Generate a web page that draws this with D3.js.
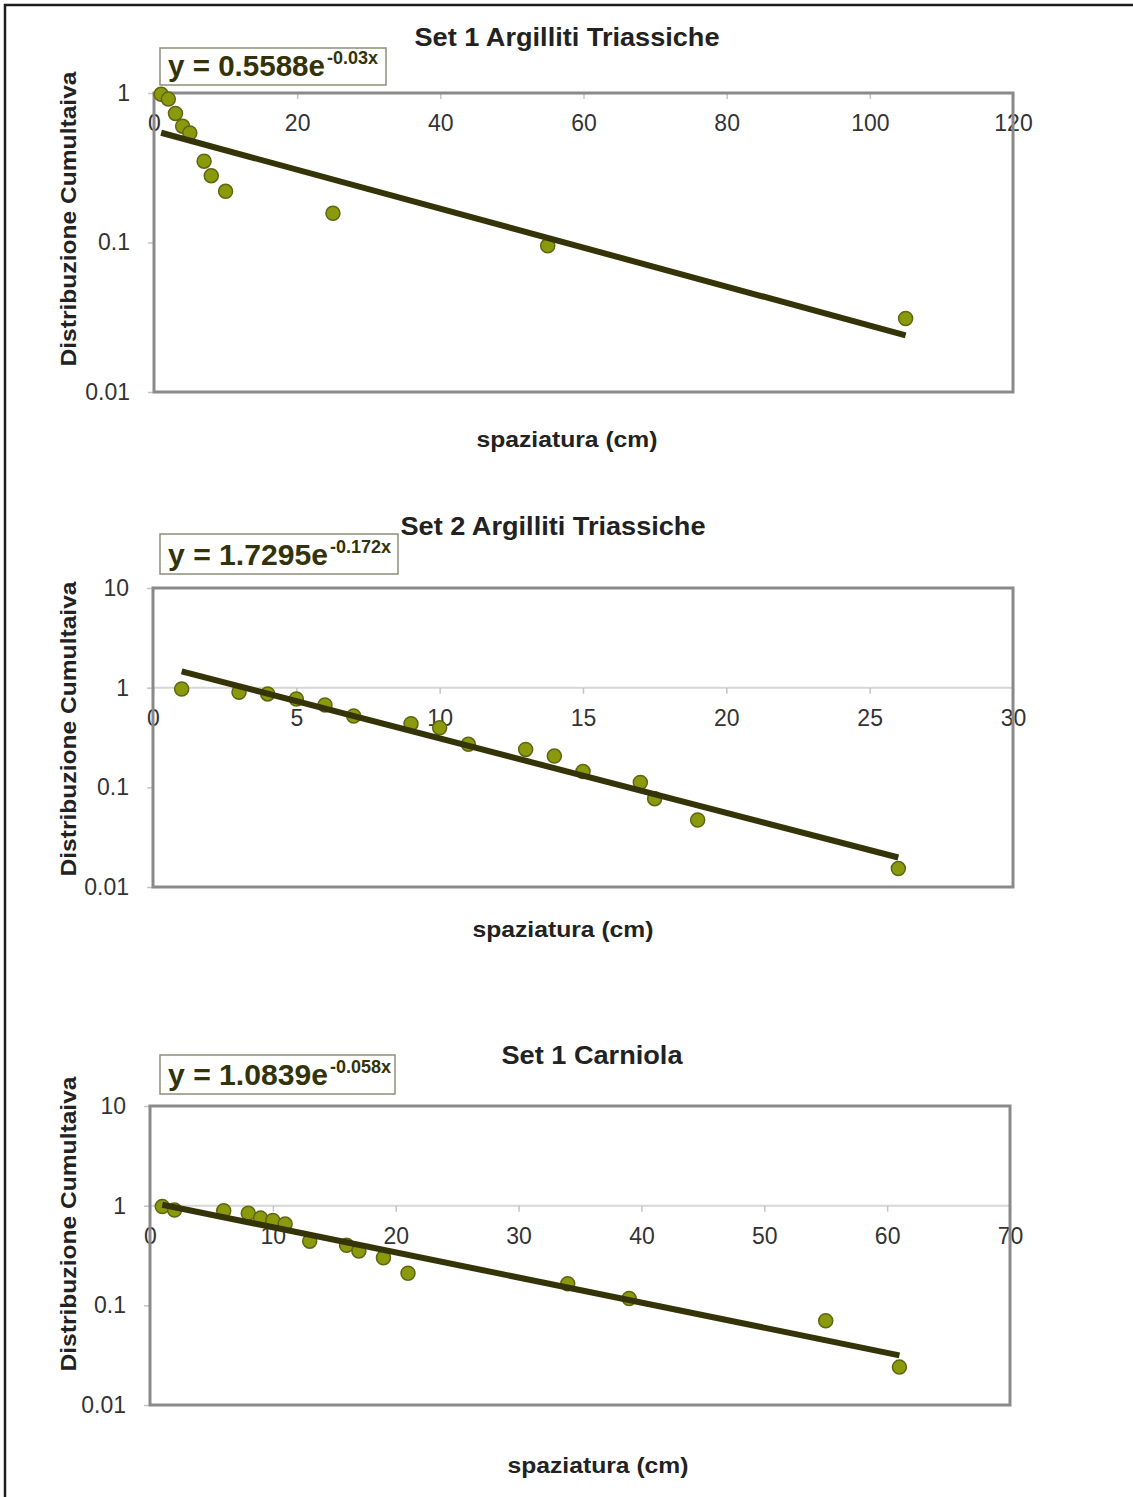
<!DOCTYPE html>
<html>
<head>
<meta charset="utf-8">
<script src="https://cdn.jsdelivr.net/npm/d3@7"></script>
<style>
  html, body { margin: 0; padding: 0; background: #fff; }
  svg text { font-family: "Liberation Sans", Arial, sans-serif; }
</style>
</head>
<body>
<svg id="fig" width="1133" height="1497"></svg>
<script>
// values
var set1Title = 'Set 1 Argilliti Triassiche';
var set1X = [1, 2, 3, 4, 5, 7, 8, 10, 25, 55, 105];
var set1Y = [0.98, 0.91, 0.73, 0.60, 0.54, 0.35, 0.28, 0.22, 0.157, 0.095, 0.031];
var set1Fit = { a: 0.5588, b: -0.03, from: 1, to: 105, label: '0.5588', exp: '-0.03x' };
var set1XTicks = [0, 20, 40, 60, 80, 100, 120];
var set1YTicks = [0.01, 0.1, 1];

var set2Title = 'Set 2 Argilliti Triassiche';
var set2X = [1, 3, 4, 5, 6, 7, 9, 10, 11, 13, 14, 15, 17, 17.5, 19, 26];
var set2Y = [0.97, 0.90, 0.865, 0.77, 0.67, 0.52, 0.435, 0.395, 0.27, 0.24, 0.206, 0.144, 0.112, 0.077, 0.047, 0.0153];
var set2Fit = { a: 1.7295, b: -0.172, from: 1, to: 26, label: '1.7295', exp: '-0.172x' };
var set2XTicks = [0, 5, 10, 15, 20, 25, 30];
var set2YTicks = [0.01, 0.1, 1, 10];

var set3Title = 'Set 1 Carniola';
var set3X = [1, 2, 6, 8, 9, 10, 11, 13, 16, 17, 19, 21, 34, 39, 55, 61];
var set3Y = [0.98, 0.905, 0.89, 0.84, 0.75, 0.71, 0.655, 0.44, 0.40, 0.35, 0.30, 0.21, 0.165, 0.117, 0.07, 0.024];
var set3Fit = { a: 1.0839, b: -0.058, from: 1, to: 61, label: '1.0839', exp: '-0.058x' };
var set3XTicks = [0, 10, 20, 30, 40, 50, 60, 70];
var set3YTicks = [0.01, 0.1, 1, 10];

var yName = 'Distribuzione Cumultaiva';
var xName = 'spaziatura (cm)';

var svg = d3.select('#fig');

// outer frame (only left and top edges show in the picture)
svg.append('path')
    .attr('d', 'M5,1497 L5,5 L1133,5')
    .attr('fill', 'none')
    .attr('stroke', '#1e1e1e')
    .attr('stroke-width', 2.5);

var panels = [
    { title: set1Title, xs: set1X, ys: set1Y, fit: set1Fit, xTicks: set1XTicks, yTicks: set1YTicks,
      left: 154, right: 1013, top: 93, bottom: 392, titleX: 567, titleY: 46, titleW: 305,
      box: [160, 48, 226, 37], eqW: 157, yLabelY: 219, xLabelX: 567, xLabelY: 447 },
    { title: set2Title, xs: set2X, ys: set2Y, fit: set2Fit, xTicks: set2XTicks, yTicks: set2YTicks,
      left: 153, right: 1013, top: 588, bottom: 887, titleX: 553, titleY: 535, titleW: 305,
      box: [160, 534, 238, 40], eqW: 160, yLabelY: 729, xLabelX: 563, xLabelY: 937 },
    { title: set3Title, xs: set3X, ys: set3Y, fit: set3Fit, xTicks: set3XTicks, yTicks: set3YTicks,
      left: 150, right: 1010, top: 1106, bottom: 1405, titleX: 592, titleY: 1064, titleW: 181,
      box: [160, 1055, 235, 39], eqW: 160, yLabelY: 1224, xLabelX: 598, xLabelY: 1473 }
];

panels.forEach(drawPanel);

function drawPanel(p) {
    var g = svg.append('g');
    var xmax = p.xTicks[p.xTicks.length - 1];
    var x = d3.scaleLinear().domain([0, xmax]).range([p.left, p.right]);
    var y = d3.scaleLog()
        .domain([p.yTicks[0], p.yTicks[p.yTicks.length - 1]])
        .range([p.bottom, p.top]);

    // horizontal gridline at 1 (also where the x axis sits)
    g.append('line')
        .attr('x1', p.left).attr('x2', p.right)
        .attr('y1', y(1)).attr('y2', y(1))
        .attr('stroke', '#d6d6d6')
        .attr('stroke-width', 2);

    // x axis, crossing at y = 1
    var xAxis = g.append('g')
        .attr('transform', 'translate(0,' + y(1) + ')')
        .call(d3.axisBottom(x).tickValues(p.xTicks).tickSize(6).tickPadding(16));
    xAxis.select('.domain').remove();
    xAxis.selectAll('line').attr('stroke', '#c4c4c4').attr('stroke-width', 1.5);
    xAxis.selectAll('text')
        .attr('fill', '#333')
        .style('font-size', '23px')
        .style('font-family', '"Liberation Sans", Arial, sans-serif');

    // y axis
    var yAxis = g.append('g')
        .attr('transform', 'translate(' + p.left + ',0)')
        .call(d3.axisLeft(y).tickValues(p.yTicks).tickSize(6).tickPadding(18)
            .tickFormat(function (d) { return String(d); }));
    yAxis.select('.domain').remove();
    yAxis.selectAll('line').attr('stroke', '#c4c4c4').attr('stroke-width', 1.5);
    yAxis.selectAll('text')
        .attr('fill', '#333')
        .style('font-size', '23px')
        .style('font-family', '"Liberation Sans", Arial, sans-serif');

    // plot frame
    g.append('rect')
        .attr('x', p.left).attr('y', p.top)
        .attr('width', p.right - p.left).attr('height', p.bottom - p.top)
        .attr('fill', 'none')
        .attr('stroke', '#8a8a8a')
        .attr('stroke-width', 3);

    // points
    var pts = p.xs.map(function (v, i) { return [v, p.ys[i]]; });
    g.selectAll('circle')
        .data(pts)
        .enter()
        .append('circle')
        .attr('cx', function (d) { return x(d[0]); })
        .attr('cy', function (d) { return y(d[1]); })
        .attr('r', 7)
        .attr('fill', '#8b9a0c')
        .attr('stroke', '#5f6612')
        .attr('stroke-width', 1.5);

    // exponential trend line (straight on a log axis)
    var f = p.fit;
    var ends = [f.from, f.to].map(function (v) { return [v, f.a * Math.exp(f.b * v)]; });
    g.append('path')
        .datum(ends)
        .attr('d', d3.line().x(function (d) { return x(d[0]); }).y(function (d) { return y(d[1]); }))
        .attr('fill', 'none')
        .attr('stroke', '#343408')
        .attr('stroke-width', 6);

    // title
    g.append('text')
        .attr('x', p.titleX).attr('y', p.titleY)
        .attr('text-anchor', 'middle')
        .attr('font-size', 26)
        .attr('font-weight', 'bold')
        .attr('fill', '#222')
        .attr('textLength', p.titleW)
        .attr('lengthAdjust', 'spacingAndGlyphs')
        .text(p.title);

    // equation box
    g.append('rect')
        .attr('x', p.box[0]).attr('y', p.box[1])
        .attr('width', p.box[2]).attr('height', p.box[3])
        .attr('fill', '#fff')
        .attr('stroke', '#8f8f7a')
        .attr('stroke-width', 1.5);
    var eq = g.append('text')
        .attr('x', p.box[0] + 8)
        .attr('y', p.box[1] + p.box[3] - 9)
        .attr('fill', '#33330a')
        .attr('font-weight', 'bold');
    eq.append('tspan')
        .attr('font-size', 29)
        .attr('textLength', p.eqW)
        .attr('lengthAdjust', 'spacingAndGlyphs')
        .text('y = ' + f.label + 'e');
    eq.append('tspan').attr('font-size', 18).attr('dx', 2).attr('dy', -12).text(f.exp);

    // axis names
    g.append('text')
        .attr('transform', 'translate(76,' + p.yLabelY + ') rotate(-90)')
        .attr('text-anchor', 'middle')
        .attr('font-size', 22)
        .attr('font-weight', 'bold')
        .attr('fill', '#222')
        .attr('textLength', 295)
        .attr('lengthAdjust', 'spacingAndGlyphs')
        .text(yName);

    g.append('text')
        .attr('x', p.xLabelX).attr('y', p.xLabelY)
        .attr('text-anchor', 'middle')
        .attr('font-size', 22)
        .attr('font-weight', 'bold')
        .attr('fill', '#222')
        .attr('textLength', 181)
        .attr('lengthAdjust', 'spacingAndGlyphs')
        .text(xName);
}
</script>
</body>
</html>
